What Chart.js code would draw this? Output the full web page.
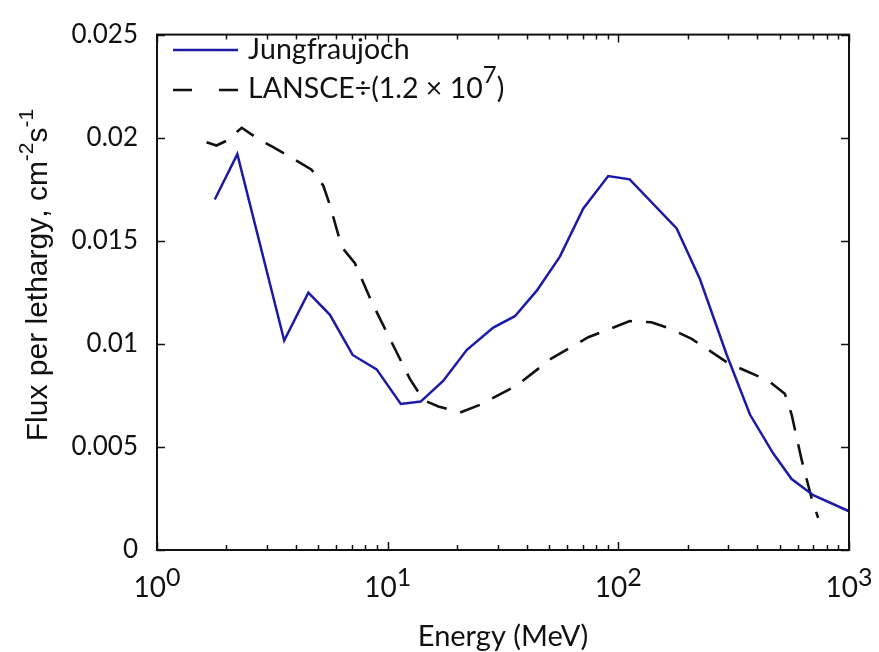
<!DOCTYPE html>
<html>
<head>
<meta charset="utf-8">
<script src="https://cdn.jsdelivr.net/npm/chart.js@4.4.1/dist/chart.umd.min.js"></script>
<style>
  html, body { margin: 0; padding: 0; background: #fff; }
  #wrap { width: 879px; height: 652px; position: relative; }
</style>
</head>
<body>
<div id="wrap"><canvas id="fluxChart"></canvas></div>
<script>
/* ── Data ────────────────────────────────────────────────────── */
const jungEnergy = [1.78, 2.23, 3.56, 4.53, 5.62, 7.05, 8.96, 11.4, 13.9, 17.4, 22.0, 28.7,
                    35.6, 44.3, 55.8, 70.5, 90.4, 112, 179, 226, 295, 372, 469, 564, 700, 1000];
const jungFlux   = [0.0170, 0.0192, 0.01016, 0.01248, 0.01141, 0.00946, 0.00876, 0.00708,
                    0.0072, 0.0082, 0.0097, 0.01079, 0.01134, 0.01258, 0.01423, 0.01657,
                    0.01814, 0.01798, 0.0156, 0.01313, 0.00947, 0.00657, 0.00469, 0.00344,
                    0.00266, 0.00188];

const lanEnergy = [1.64, 1.81, 2.00, 2.33, 2.75, 3.19, 3.77, 4.68, 5.26, 5.62, 6.32, 7.21,
                   8.52, 10.4, 12.5, 14.3, 16.6, 20.6, 25.1, 36.2, 51.4, 74.1, 112, 139,
                   170, 208, 299, 447, 527, 564, 623, 689, 735];
const lanFlux   = [0.01978, 0.01962, 0.01985, 0.02048, 0.01993, 0.01954, 0.01907, 0.01845,
                   0.01767, 0.01673, 0.0147, 0.01391, 0.01204, 0.01008, 0.00829, 0.00727,
                   0.00696, 0.00667, 0.00704, 0.00797, 0.0093, 0.01032, 0.0111, 0.01105,
                   0.01071, 0.01024, 0.00907, 0.00821, 0.00758, 0.00657, 0.00438, 0.0025,
                   0.00156];

const seriesNames = ['Jungfraujoch', 'LANSCE÷(1.2 × 10⁷)'];
const yTickValues = [0, 0.005, 0.01, 0.015, 0.02, 0.025];
const yTickLabels = ['0', '0.005', '0.01', '0.015', '0.02', '0.025'];
const xDecades    = [1, 10, 100, 1000];
const xDecadeLabels = ['10⁰', '10¹', '10²', '10³'];

/* ── Styling ─────────────────────────────────────────────────── */
const blue = '#1b1ba6';
const ink  = '#111';
const calib = 'Lato, "Open Sans", sans-serif';
const arial = '"Liberation Sans", Arial, sans-serif';

const toPoints = (xs, ys) => xs.map((x, i) => ({ x, y: ys[i] }));

// text with superscript runs; chars in supMap are drawn raised and smaller
const supMap = { '⁰': '0', '¹': '1', '²': '2', '³': '3', '⁷': '7', '⁻': '-' };
function richWidth(ctx, text, size, supSize, family) {
    let w = 0;
    for (const ch of text) {
        ctx.font = supMap[ch] ? `${supSize}px ${family}` : `${size}px ${family}`;
        w += ctx.measureText(supMap[ch] || ch).width;
    }
    return w;
}
function drawRich(ctx, text, x, y, size, supSize, rise, family) {
    for (const ch of text) {
        const sup = supMap[ch];
        ctx.font = sup ? `${supSize}px ${family}` : `${size}px ${family}`;
        ctx.fillText(sup || ch, x, sup ? y - rise : y);
        x += ctx.measureText(sup || ch).width;
    }
}

/* ── Frame, inward ticks, axis labels, legend ────────────────── */
const decorPlugin = {
    id: 'decor',
    afterDraw(chart) {
        const { ctx, chartArea: a, scales: { x, y } } = chart;
        ctx.save();
        ctx.strokeStyle = ink;
        ctx.lineWidth = 2;
        ctx.strokeRect(a.left, a.top, a.right - a.left, a.bottom - a.top);

        ctx.lineWidth = 1.5;
        ctx.beginPath();
        yTickValues.forEach(v => {
            const py = Math.round(y.getPixelForValue(v)) + 0.5;
            ctx.moveTo(a.left, py);  ctx.lineTo(a.left + 8, py);
            ctx.moveTo(a.right, py); ctx.lineTo(a.right - 8, py);
        });
        for (let d = 1; d < 1000; d *= 10) {
            for (let m = 1; m <= 10; m++) {
                const px = Math.round(x.getPixelForValue(d * m)) + 0.5;
                const len = (m === 1 || m === 10) ? 8 : 5;
                ctx.moveTo(px, a.bottom); ctx.lineTo(px, a.bottom - len);
                ctx.moveTo(px, a.top);    ctx.lineTo(px, a.top + len);
            }
        }
        ctx.stroke();

        // x decade labels 10^n
        ctx.fillStyle = ink;
        ctx.textBaseline = 'alphabetic';
        ctx.textAlign = 'left';
        xDecades.forEach((v, i) => {
            const w = richWidth(ctx, xDecadeLabels[i], 28, 25, calib);
            drawRich(ctx, xDecadeLabels[i], x.getPixelForValue(v) - w / 2, 597, 28, 25, 11, calib);
        });

        // axis titles
        ctx.font = `29px ${calib}`;
        ctx.textAlign = 'center';
        ctx.fillText('Energy (MeV)', (a.left + a.right) / 2, 646);

        ctx.save();
        ctx.translate(47, 275);
        ctx.rotate(-Math.PI / 2);
        ctx.textAlign = 'left';
        const yTitle = 'Flux per lethargy, cm⁻²s⁻¹';
        const tw = richWidth(ctx, yTitle, 30, 21, arial);
        drawRich(ctx, yTitle, -tw / 2, 0, 30, 21, 14, arial);
        ctx.restore();

        // legend inside the plot
        const lx = a.left + 16, lw = 65;
        ctx.lineWidth = 2.5;
        ctx.strokeStyle = blue;
        ctx.beginPath(); ctx.moveTo(lx, 50); ctx.lineTo(lx + lw, 50); ctx.stroke();
        ctx.strokeStyle = ink;
        ctx.lineWidth = 2.6;
        ctx.setLineDash([19, 27]);
        ctx.beginPath(); ctx.moveTo(lx, 90); ctx.lineTo(lx + lw, 90); ctx.stroke();
        ctx.setLineDash([]);
        ctx.textAlign = 'left';
        drawRich(ctx, seriesNames[0], lx + lw + 10, 59, 28.5, 22, 14, calib);
        drawRich(ctx, seriesNames[1], lx + lw + 10, 98, 28.5, 24, 15, calib);
        ctx.restore();
    },
};

new Chart(document.getElementById('fluxChart'), {
    type: 'line',
    data: {
        datasets: [
            {
                label: seriesNames[0],
                data: toPoints(jungEnergy, jungFlux),
                borderColor: blue,
                borderWidth: 2.5,
                pointRadius: 0,
                tension: 0,
            },
            {
                label: seriesNames[1],
                data: toPoints(lanEnergy, lanFlux),
                borderColor: ink,
                borderWidth: 2.6,
                borderDash: [21, 14],
                pointRadius: 0,
                tension: 0,
            },
        ],
    },
    options: {
        responsive: true,
        maintainAspectRatio: false,
        animation: false,
        layout: { padding: { top: 17, right: 30, left: 0, bottom: 0 } },
        plugins: { legend: { display: false }, tooltip: { enabled: false } },
        scales: {
            x: {
                type: 'logarithmic',
                min: 1,
                max: 1000,
                grid: { display: false, drawTicks: false },
                border: { display: false },
                ticks: { display: false },
                afterFit: s => { s.height = 102; },
            },
            y: {
                min: 0,
                max: 0.025,
                grid: { display: false, drawTicks: false },
                border: { display: false },
                ticks: {
                    stepSize: 0.005,
                    padding: 19,
                    color: ink,
                    font: { family: calib, size: 26 },
                    callback: (v) => {
                        const i = yTickValues.findIndex(t => Math.abs(t - v) < 1e-9);
                        return i >= 0 ? yTickLabels[i] : '';
                    },
                },
                afterFit: s => { s.width = 157; },
            },
        },
    },
    plugins: [decorPlugin],
});
</script>
</body>
</html>
